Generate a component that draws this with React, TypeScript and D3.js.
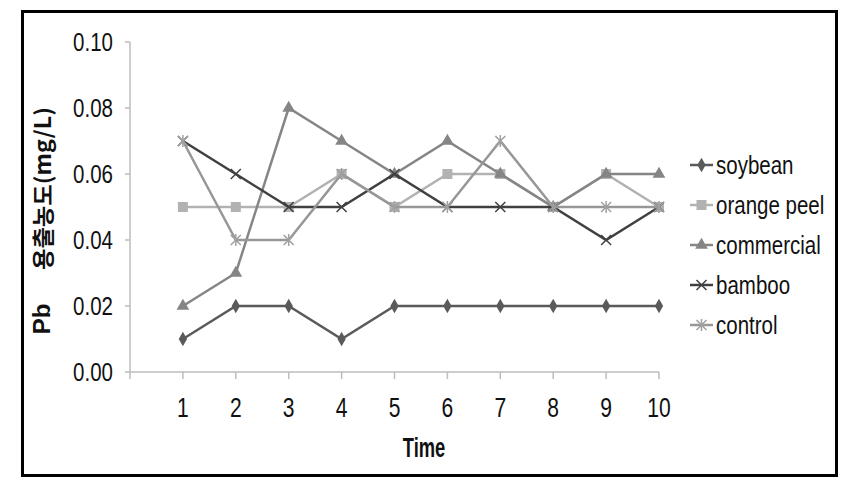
import React from "react";
import * as d3 from "d3";

const times = [1, 2, 3, 4, 5, 6, 7, 8, 9, 10];
const yTicks = [0, 0.02, 0.04, 0.06, 0.08, 0.1];
const seriesNames = ["soybean", "orange peel", "commercial", "bamboo", "control"];
const soybean = [0.01, 0.02, 0.02, 0.01, 0.02, 0.02, 0.02, 0.02, 0.02, 0.02];
const orangePeel = [0.05, 0.05, 0.05, 0.06, 0.05, 0.06, 0.06, 0.05, 0.06, 0.05];
const commercial = [0.02, 0.03, 0.08, 0.07, 0.06, 0.07, 0.06, 0.05, 0.06, 0.06];
const bamboo = [0.07, 0.06, 0.05, 0.05, 0.06, 0.05, 0.05, 0.05, 0.04, 0.05];
const control = [0.07, 0.04, 0.04, 0.06, 0.05, 0.05, 0.07, 0.05, 0.05, 0.05];
const seriesValues = [soybean, orangePeel, commercial, bamboo, control];

const lineColors = ["#5a5a5a", "#b2b2b2", "#858585", "#404040", "#979797"];
const markerColors = ["#5a5a5a", "#b2b2b2", "#858585", "#404040", "#a0a0a0"];
const markerTypes = ["diamond", "square", "triangle", "x", "asterisk"];

const FONT = "'Liberation Sans', Arial, sans-serif";

function Marker({ type, x, y, color }: { type: string; x: number; y: number; color: string }) {
  if (type === "diamond") {
    const p = d3.symbol().type(d3.symbolDiamond).size(60)();
    return <path d={p || ""} transform={`translate(${x},${y})`} fill={color} />;
  }
  if (type === "square") {
    return <rect x={x - 5} y={y - 5} width={10} height={10} fill={color} />;
  }
  if (type === "triangle") {
    const p = d3.symbol().type(d3.symbolTriangle).size(70)();
    return <path d={p || ""} transform={`translate(${x},${y})`} fill={color} />;
  }
  if (type === "x") {
    const r = 5;
    return (
      <path
        d={`M${x - r},${y - r}L${x + r},${y + r}M${x - r},${y + r}L${x + r},${y - r}`}
        stroke={color}
        strokeWidth={1.5}
      />
    );
  }
  const r = 5;
  return (
    <path
      d={`M${x - r},${y - r}L${x + r},${y + r}M${x - r},${y + r}L${x + r},${y - r}M${x},${y - r - 1}L${x},${y + r + 1}`}
      stroke={color}
      strokeWidth={1.5}
    />
  );
}

function NText({
  x,
  y,
  sx,
  size,
  anchor,
  bold,
  children,
}: {
  x: number;
  y: number;
  sx: number;
  size: number;
  anchor?: string;
  bold?: boolean;
  children: React.ReactNode;
}) {
  return (
    <text
      transform={`translate(${x},${y}) scale(${sx},1)`}
      textAnchor={anchor || "start"}
      dominantBaseline="central"
      fontFamily={FONT}
      fontWeight={bold ? "bold" : "normal"}
      fontSize={size}
      fill="#111"
    >
      {children}
    </text>
  );
}

export default function App() {
  const W = 849;
  const H = 487;
  const x = d3.scaleLinear().domain([0, 10]).range([130, 659]);
  const y = d3.scaleLinear().domain([0, 0.1]).range([372, 42]);
  const line = d3
    .line<number>()
    .x((_, i) => x(times[i]))
    .y((d) => y(d));

  const axisColor = "#bdbdbd";
  const legendX = 690;
  const legendY0 = 165;
  const legendStep = 40;

  return (
    <svg
      width={W}
      height={H}
      style={{ position: "absolute", left: 0, top: 0, display: "block", background: "#fff" }}
    >
      <rect x={0} y={0} width={W} height={H} fill="#fff" />
      <rect x={22.5} y={11.5} width={814} height={464} fill="#fff" stroke="#000" strokeWidth={3} />

      {/* axes */}
      <line x1={x(0)} x2={x(0)} y1={y(0.1)} y2={y(0)} stroke={axisColor} strokeWidth={1.5} />
      <line x1={x(0)} x2={x(10)} y1={y(0)} y2={y(0)} stroke={axisColor} strokeWidth={1.5} />
      {yTicks.map((t) => (
        <line key={"yt" + t} x1={x(0) - 5} x2={x(0)} y1={y(t)} y2={y(t)} stroke={axisColor} strokeWidth={1.5} />
      ))}
      {[0, ...times].map((t) => (
        <line key={"xt" + t} x1={x(t)} x2={x(t)} y1={y(0)} y2={y(0) + 7} stroke={axisColor} strokeWidth={1.5} />
      ))}

      {/* tick labels */}
      {yTicks.map((t) => (
        <NText key={"yl" + t} x={113} y={y(t)} sx={0.82} size={25} anchor="end">
          {d3.format(".2f")(t)}
        </NText>
      ))}
      {times.map((t) => (
        <NText key={"xl" + t} x={x(t)} y={408} sx={0.78} size={27} anchor="middle">
          {t}
        </NText>
      ))}

      {/* axis titles */}
      <NText x={424} y={448} sx={0.68} size={27} anchor="middle" bold>
        Time
      </NText>
      <text
        transform={`translate(41,319) rotate(-90)`}
        textAnchor="middle"
        dominantBaseline="central"
        fontFamily={FONT}
        fontWeight="bold"
        fontSize={24}
        fill="#111"
      >
        Pb
      </text>
      <text
        transform={`translate(41,270) rotate(-90)`}
        textAnchor="start"
        dominantBaseline="central"
        fontFamily={"'Noto Sans CJK KR', " + FONT}
        fontWeight="bold"
        fontSize={22}
        fill="#111"
        textLength={163}
        lengthAdjust="spacingAndGlyphs"
      >
        용출농도(mg/L)
      </text>

      {/* series */}
      {seriesValues.map((vals, si) => (
        <g key={"s" + si}>
          <path d={line(vals) || ""} fill="none" stroke={lineColors[si]} strokeWidth={2.5} />
          {vals.map((v, i) => (
            <Marker key={i} type={markerTypes[si]} x={x(times[i])} y={y(v)} color={markerColors[si]} />
          ))}
        </g>
      ))}

      {/* legend */}
      {seriesNames.map((n, i) => {
        const ly = legendY0 + i * legendStep;
        return (
          <g key={"lg" + n}>
            <line x1={legendX} x2={legendX + 23} y1={ly} y2={ly} stroke={lineColors[i]} strokeWidth={2.5} />
            <Marker type={markerTypes[i]} x={legendX + 11.5} y={ly} color={markerColors[i]} />
            <NText x={legendX + 26} y={ly} sx={0.82} size={25}>
              {n}
            </NText>
          </g>
        );
      })}
    </svg>
  );
}
